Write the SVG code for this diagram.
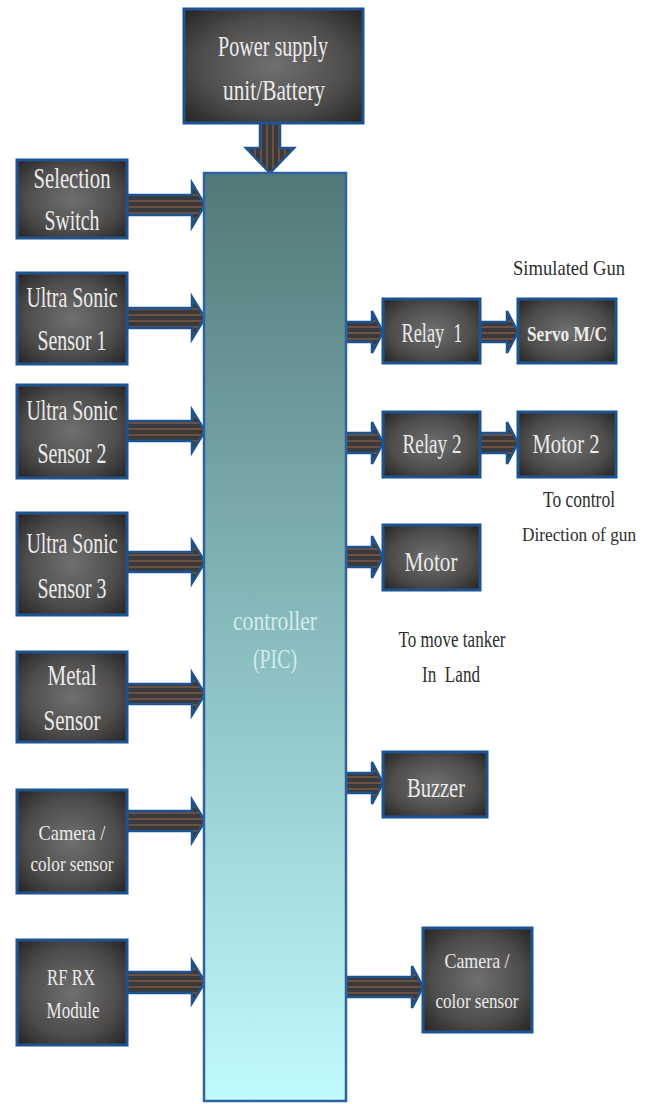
<svg xmlns="http://www.w3.org/2000/svg" width="648" height="1104" viewBox="0 0 648 1104">
<defs>
<radialGradient id="boxg" cx="0.5" cy="0.5" r="0.7">
<stop offset="0" stop-color="#707070"/>
<stop offset="0.6" stop-color="#4e4c4b"/>
<stop offset="1" stop-color="#262423"/>
</radialGradient>
<linearGradient id="ctrlg" x1="0" y1="0" x2="0" y2="1">
<stop offset="0" stop-color="#527878"/>
<stop offset="0.5" stop-color="#88bcbe"/>
<stop offset="1" stop-color="#c2fbfd"/>
</linearGradient>
<pattern id="hstripe" patternUnits="userSpaceOnUse" width="8" height="6">
<rect width="8" height="6" fill="#3a3a3c"/>
<rect y="2" width="8" height="2" fill="#6e5040"/>
</pattern>
<pattern id="vstripe" patternUnits="userSpaceOnUse" width="6" height="8">
<rect width="6" height="8" fill="#3a3a3c"/>
<rect x="2" width="2" height="8" fill="#6e5040"/>
</pattern>
<style>
.box{fill:url(#boxg);stroke:#1d5390;stroke-width:3}
.lbl{font-family:"Liberation Serif",serif;fill:#ebebeb;text-anchor:middle}
.note{font-family:"Liberation Serif",serif;fill:#2e2e2e;text-anchor:middle}
.arr{fill:url(#hstripe);stroke:#1d5390;stroke-width:2.5;stroke-linejoin:miter}
.darr{fill:url(#vstripe);stroke:#1d5390;stroke-width:2.5}
</style>
</defs>
<rect width="648" height="1104" fill="#ffffff"/>

<g id="connectors">
<polygon class="darr" points="260,123 280,123 280,148 294,148 270,173 246,148 260,148"/>
<polygon class="arr" points="127,195 192,195 192,183 205,205 192,227 192,215 127,215"/>
<polygon class="arr" points="127,308 192,308 192,297 205,318 192,339 192,328 127,328"/>
<polygon class="arr" points="127,421 192,421 192,410 205,431 192,452 192,441 127,441"/>
<polygon class="arr" points="127,552 192,552 192,541 205,562 192,583 192,572 127,572"/>
<polygon class="arr" points="127,684 192,684 192,673 205,694 192,715 192,704 127,704"/>
<polygon class="arr" points="127,811 192,811 192,800 205,821 192,842 192,831 127,831"/>
<polygon class="arr" points="127,972 192,972 192,961 205,982 192,1003 192,993 127,993"/>
<polygon class="arr" points="346,322 372,322 372,311 383,332 372,353 372,342 346,342"/>
<polygon class="arr" points="480,322 507,322 507,311 518,332 507,353 507,342 480,342"/>
<polygon class="arr" points="346,433 372,433 372,422 383,443 372,464 372,453 346,453"/>
<polygon class="arr" points="480,433 507,433 507,422 518,443 507,464 507,453 480,453"/>
<polygon class="arr" points="346,547 372,547 372,536 383,557 372,578 372,567 346,567"/>
<polygon class="arr" points="346,773 372,773 372,762 383,783 372,804 372,793 346,793"/>
<polygon class="arr" points="346,977 412,977 412,966 423,987 412,1008 412,997 346,997"/>
</g>

<g id="controller">
<rect x="204" y="173" width="142" height="928" fill="url(#ctrlg)" stroke="#2d63a0" stroke-width="2.5"/>
<text class="lbl" x="275" y="630" font-size="28" textLength="84" lengthAdjust="spacingAndGlyphs" style="fill:#d3ecec">controller</text>
<text class="lbl" x="275" y="668" font-size="28" textLength="44" lengthAdjust="spacingAndGlyphs" style="fill:#d3ecec">(PIC)</text>
</g>

<g id="power">
<rect class="box" x="184" y="9" width="179" height="114"/>
<text class="lbl" x="273" y="56" font-size="30" textLength="110" lengthAdjust="spacingAndGlyphs">Power supply</text>
<text class="lbl" x="274" y="100" font-size="30" textLength="102" lengthAdjust="spacingAndGlyphs">unit/Battery</text>
</g>

<g id="selection">
<rect class="box" x="17" y="160" width="110" height="78"/>
<text class="lbl" x="72" y="188" font-size="29" textLength="77" lengthAdjust="spacingAndGlyphs">Selection</text>
<text class="lbl" x="72" y="230" font-size="29" textLength="55" lengthAdjust="spacingAndGlyphs">Switch</text>
</g>

<g id="us1">
<rect class="box" x="17" y="273" width="110" height="91"/>
<text class="lbl" x="72" y="307" font-size="29" textLength="91" lengthAdjust="spacingAndGlyphs">Ultra Sonic</text>
<text class="lbl" x="72" y="350" font-size="29" textLength="69" lengthAdjust="spacingAndGlyphs">Sensor 1</text>
</g>

<g id="us2">
<rect class="box" x="17" y="385" width="110" height="93"/>
<text class="lbl" x="72" y="420" font-size="29" textLength="91" lengthAdjust="spacingAndGlyphs">Ultra Sonic</text>
<text class="lbl" x="72" y="463" font-size="29" textLength="69" lengthAdjust="spacingAndGlyphs">Sensor 2</text>
</g>

<g id="us3">
<rect class="box" x="17" y="513" width="110" height="102"/>
<text class="lbl" x="72" y="553" font-size="29" textLength="91" lengthAdjust="spacingAndGlyphs">Ultra Sonic</text>
<text class="lbl" x="72" y="598" font-size="29" textLength="69" lengthAdjust="spacingAndGlyphs">Sensor 3</text>
</g>

<g id="metal">
<rect class="box" x="17" y="652" width="110" height="90"/>
<text class="lbl" x="72" y="685" font-size="29" textLength="49" lengthAdjust="spacingAndGlyphs">Metal</text>
<text class="lbl" x="72" y="730" font-size="29" textLength="57" lengthAdjust="spacingAndGlyphs">Sensor</text>
</g>

<g id="cameraL">
<rect class="box" x="17" y="790" width="110" height="103"/>
<text class="lbl" x="72" y="840" font-size="22" textLength="67" lengthAdjust="spacingAndGlyphs">Camera /</text>
<text class="lbl" x="72" y="871" font-size="22" textLength="83" lengthAdjust="spacingAndGlyphs">color sensor</text>
</g>

<g id="rfrx">
<rect class="box" x="17" y="940" width="110" height="105"/>
<text class="lbl" x="71" y="985" font-size="24" textLength="48" lengthAdjust="spacingAndGlyphs">RF RX</text>
<text class="lbl" x="73" y="1018" font-size="24" textLength="53" lengthAdjust="spacingAndGlyphs">Module</text>
</g>

<g id="relay1">
<rect class="box" x="383" y="299" width="97" height="64"/>
<text class="lbl" x="432" y="342" font-size="27" textLength="61" lengthAdjust="spacingAndGlyphs" xml:space="preserve">Relay  1</text>
</g>

<g id="servo">
<rect class="box" x="518" y="299" width="98" height="64"/>
<text class="lbl" x="567" y="341" font-size="22" font-weight="bold" textLength="80" lengthAdjust="spacingAndGlyphs">Servo M/C</text>
</g>

<g id="relay2">
<rect class="box" x="383" y="412" width="97" height="65"/>
<text class="lbl" x="432" y="453" font-size="27" textLength="59" lengthAdjust="spacingAndGlyphs">Relay 2</text>
</g>

<g id="motor2">
<rect class="box" x="518" y="412" width="98" height="65"/>
<text class="lbl" x="566" y="453" font-size="27" textLength="67" lengthAdjust="spacingAndGlyphs">Motor 2</text>
</g>

<g id="motor">
<rect class="box" x="383" y="525" width="97" height="65"/>
<text class="lbl" x="431" y="571" font-size="27" textLength="53" lengthAdjust="spacingAndGlyphs">Motor</text>
</g>

<g id="buzzer">
<rect class="box" x="383" y="752" width="104" height="65"/>
<text class="lbl" x="436" y="797" font-size="27" textLength="58" lengthAdjust="spacingAndGlyphs">Buzzer</text>
</g>

<g id="cameraR">
<rect class="box" x="423" y="928" width="109" height="104"/>
<text class="lbl" x="477" y="968" font-size="22" textLength="65" lengthAdjust="spacingAndGlyphs">Camera /</text>
<text class="lbl" x="477" y="1008" font-size="22" textLength="83" lengthAdjust="spacingAndGlyphs">color sensor</text>
</g>

<g id="notes">
<text class="note" x="569" y="275" font-size="21" textLength="112" lengthAdjust="spacingAndGlyphs">Simulated Gun</text>
<text class="note" x="579" y="507" font-size="23" textLength="72" lengthAdjust="spacingAndGlyphs">To control</text>
<text class="note" x="579" y="541" font-size="19" textLength="114" lengthAdjust="spacingAndGlyphs">Direction of gun</text>
<text class="note" x="452" y="647" font-size="23" textLength="107" lengthAdjust="spacingAndGlyphs">To move tanker</text>
<text class="note" x="451" y="682" font-size="23" textLength="58" lengthAdjust="spacingAndGlyphs" xml:space="preserve">In  Land</text>
</g>
</svg>
